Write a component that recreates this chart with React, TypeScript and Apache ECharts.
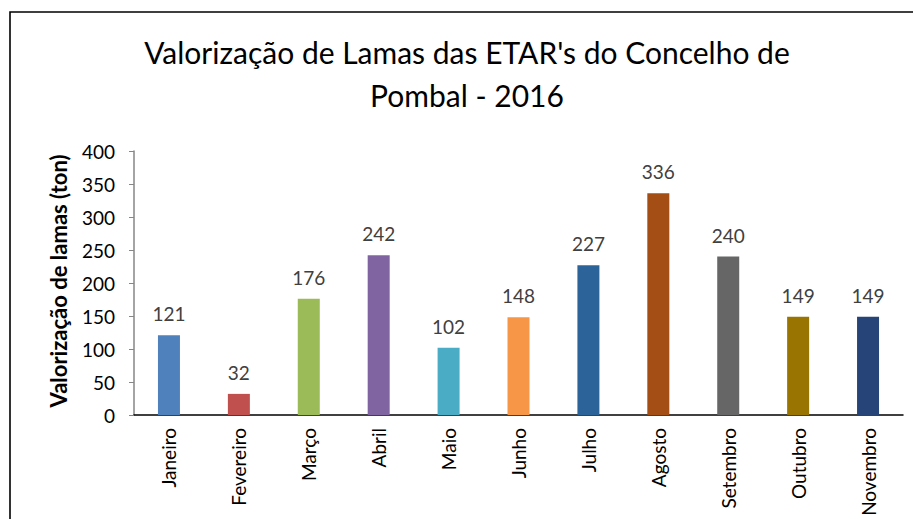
import React, { useEffect, useRef } from "react";
import * as echarts from "echarts";

const categories = ["Janeiro", "Fevereiro", "Março", "Abril", "Maio", "Junho", "Julho", "Agosto", "Setembro", "Outubro", "Novembro"];
const values = [121, 32, 176, 242, 102, 148, 227, 336, 240, 149, 149];
const colors = ["#4F81BD", "#C0504D", "#9BBB59", "#8064A2", "#4BACC6", "#F79646", "#2C649A", "#A44D14", "#666666", "#9A7400", "#264478"];
const titleLines = ["Valorização de Lamas das ETAR's do Concelho de", "Pombal - 2016"];
const yAxisName = "Valorização de lamas (ton)";

const FONT = "Lato, 'Open Sans', sans-serif";

export default function App() {
  const ref = useRef<HTMLDivElement>(null);
  useEffect(() => {
    const chart = echarts.init(ref.current!, null, { renderer: "svg" });
    chart.setOption({
      animation: false,
      backgroundColor: "#ffffff",
      textStyle: { fontFamily: FONT },
      graphic: [
        {
          type: "rect",
          shape: { x: 10, y: 12, width: 1000, height: 1000 },
          style: { fill: "none", stroke: "#000", lineWidth: 1.6 },
        },
        {
          type: "text",
          x: 467,
          y: 52,
          style: { text: titleLines[0], fontSize: 30, fontFamily: FONT, fill: "#000", align: "center", verticalAlign: "middle" },
        },
        {
          type: "text",
          x: 467,
          y: 95,
          style: { text: titleLines[1], fontSize: 30, fontFamily: FONT, fill: "#000", align: "center", verticalAlign: "middle" },
        },
        {
          type: "text",
          x: 58,
          y: 281,
          rotation: Math.PI / 2,
          style: { text: yAxisName, fontSize: 22, fontWeight: "bold", fontFamily: FONT, fill: "#000", align: "center", verticalAlign: "middle" },
        },
      ],
      grid: { left: 134, right: 10, top: 151, bottom: 104, containLabel: false, outerBoundsMode: "none" },
      xAxis: {
        type: "category",
        data: categories,
        axisLine: { lineStyle: { color: "#000", width: 1.5 } },
        axisTick: { show: false },
        axisLabel: { rotate: 90, margin: 13, fontSize: 19, color: "#000", fontFamily: FONT, interval: 0 },
      },
      yAxis: {
        type: "value",
        min: 0,
        max: 400,
        interval: 50,
        axisLine: { show: true, lineStyle: { color: "#868686", width: 1.5 } },
        axisTick: { show: true, length: 5, lineStyle: { color: "#868686" } },
        splitLine: { show: false },
        axisLabel: { fontSize: 19, color: "#000", margin: 19, fontFamily: FONT },
      },
      series: [
        {
          type: "bar",
          data: values.map((v, i) => ({ value: v, itemStyle: { color: colors[i] } })),
          barWidth: 22,
          label: { show: true, position: "top", distance: 12, fontSize: 19, color: "#404040", fontFamily: FONT },
        },
      ],
    });
    return () => chart.dispose();
  }, []);
  return <div ref={ref} style={{ position: "fixed", left: 0, top: 0, width: 913, height: 519 }} />;
}
